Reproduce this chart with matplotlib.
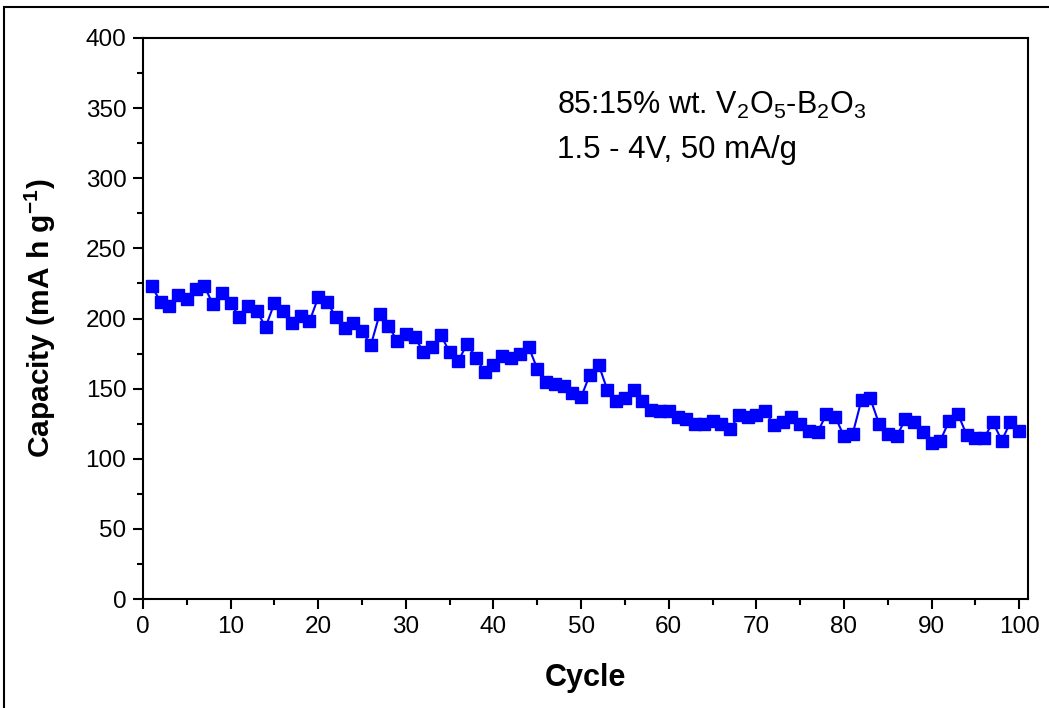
import numpy as np
import matplotlib.pyplot as plt
from matplotlib.ticker import MultipleLocator
from matplotlib.patches import Rectangle

plt.rcParams['font.family'] = ['Liberation Sans', 'DejaVu Sans']
plt.rcParams['mathtext.fontset'] = 'custom'
plt.rcParams['mathtext.rm'] = 'Liberation Sans'
plt.rcParams['mathtext.bf'] = 'Liberation Sans:bold'

cycle = np.arange(1, 101)
capacity = [
    223, 212, 209, 217, 214, 221, 223, 210, 218, 211,
    201, 209, 205, 194, 211, 205, 197, 202, 198, 215,
    212, 201, 193, 197, 191, 181, 203, 195, 184, 189,
    187, 176, 180, 188, 176, 170, 182, 172, 162, 167,
    173, 172, 175, 180, 164, 155, 153, 152, 147, 144,
    160, 167, 149, 141, 143, 149, 141, 135, 134, 134,
    130, 128, 125, 125, 127, 125, 121, 131, 130, 131,
    134, 124, 126, 130, 125, 120, 119, 132, 130, 116,
    118, 142, 143, 125, 118, 116, 128, 126, 119, 111,
    113, 127, 132, 117, 115, 115, 126, 113, 126, 120,
]
note_lines = ["85:15% wt. V$_\\mathrm{2}$O$_\\mathrm{5}$-B$_\\mathrm{2}$O$_\\mathrm{3}$",
              "1.5 - 4V, 50 mA/g"]

fig = plt.figure(figsize=(10.49, 7.08), dpi=100)
ax = fig.add_axes([143/1049, 1 - 599/708, (1028 - 143)/1049, (599 - 38)/708])

# outer frame around the figure (cut off at right and bottom)
fig.patches.append(Rectangle((4/1049, -0.1), 1.2, 1 - 7/708 + 0.1, transform=fig.transFigure,
                             fill=False, edgecolor='black', linewidth=1.5))

ax.plot(cycle, capacity, color='#0000FF', marker='s', markersize=8, linewidth=1.5)

ax.set_xlim(0, 101)
ax.set_ylim(0, 400)
ax.xaxis.set_major_locator(MultipleLocator(10))
ax.xaxis.set_minor_locator(MultipleLocator(5))
ax.yaxis.set_major_locator(MultipleLocator(50))
ax.yaxis.set_minor_locator(MultipleLocator(25))
ax.tick_params(which='major', direction='out', length=7, width=1.5, labelsize=17.5, pad=5)
ax.tick_params(which='minor', direction='out', length=4, width=1.5)
for s in ax.spines.values():
    s.set_linewidth(1.5)

ax.set_xlabel("Cycle", fontsize=22, fontweight='bold', labelpad=18)
ax.set_ylabel("Capacity (mA h g$^{\\mathbf{-1}}$)", fontsize=21.5, fontweight='bold', labelpad=20)
ax.text(47.2, 352, note_lines[0], fontsize=22, va='center')
ax.text(47.2, 320, note_lines[1], fontsize=22.5, va='center')

fig.savefig("out.png", dpi=100)
